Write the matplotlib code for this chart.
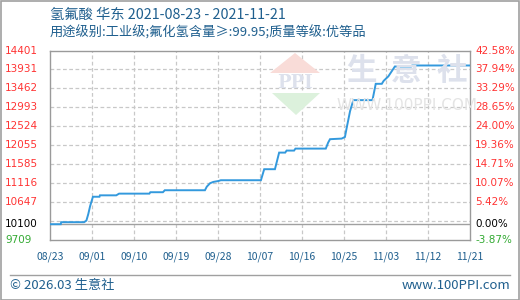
import matplotlib
matplotlib.use("Agg")
import matplotlib.pyplot as plt
import matplotlib.transforms as mtransforms
from matplotlib.patches import Polygon, Rectangle
from matplotlib.lines import Line2D
import numpy as np
import pandas as pd

# ---------------- data ----------------
start_date = "2021-08-23"
end_date = "2021-11-21"
# day offsets from start_date (fractional where the price moved within a day)
day_offsets = [0, 2.3, 2.4, 7.3, 7.8, 8.2, 8.6, 9.2, 10.6, 10.7, 14.2, 14.8,
               21.3, 21.5, 24.2, 24.6, 33.2, 33.6, 34.3, 35.0, 36.1, 36.6,
               45.2, 45.9, 48.2, 49.1, 50.4, 50.7, 52.3, 52.6, 59.1, 59.6, 60.0,
               62.5, 63.2, 63.6, 64.3, 65.0, 69.1, 69.8, 71.1, 71.5, 72.5, 73.3,
               73.9, 77.4, 77.6, 90]
prices = [10100, 10100, 10150, 10150, 10190, 10350, 10550, 10780, 10780, 10815, 10815, 10857,
          10857, 10892, 10892, 10941, 10941, 11030, 11115, 11147, 11170, 11189,
          11189, 11462, 11462, 11873, 11873, 11923, 11923, 11972, 11972, 12120, 12205,
          12220, 12260, 12500, 12900, 13172, 13172, 13576, 13576, 13650, 13760, 13900,
          14005, 14005, 14030, 14030]

base_price = 10100
y_min, y_max = 9709, 14401
y_tick_values = [9709, 10100, 10647, 11116, 11585, 12055, 12524, 12993, 13462, 13931, 14401]
y_tick_labels = ["9709", "10100", "10647", "11116", "11585", "12055", "12524",
                 "12993", "13462", "13931", "14401"]
pct_labels = ["-3.87%", "0.00%", "5.42%", "10.07%", "14.71%", "19.36%", "24.00%",
              "28.65%", "33.29%", "37.94%", "42.58%"]
x_tick_labels = ["08/23", "09/01", "09/10", "09/19", "09/28", "10/07",
                 "10/16", "10/25", "11/03", "11/12", "11/21"]

title_line1 = "氢氟酸 华东 2021-08-23 - 2021-11-21"
title_line2 = "用途级别:工业级;氟化氢含量≥:99.95;质量等级:优等品"
footer_left = "© 2026.03 生意社"
footer_right = "www.100PPI.com"

# ---------------- figure ----------------
W, H = 520, 300
fig = plt.figure(figsize=(W / 100, H / 100), dpi=100)
fig.patch.set_facecolor("white")

def fx(x):
    return x / W

def fy(y):
    return 1 - y / H

cjk = ["Noto Sans CJK SC", "DejaVu Sans"]
blue_txt = "#1f5f8e"

ax_l, ax_r, ax_t, ax_b = 50, 470, 50.5, 240
ax = fig.add_axes([fx(ax_l), fy(ax_b), fx(ax_r) - fx(ax_l), fy(ax_t) - fy(ax_b)])
ax.set_facecolor("none")

t0 = pd.Timestamp(start_date)
total_days = (pd.Timestamp(end_date) - t0).days
ax.set_xlim(0, total_days)
ax.set_ylim(y_min, y_max)

# x ticks from tick label dates
tick_days = [(pd.Timestamp(f"2021-{lab.replace('/', '-')}") - t0).days for lab in x_tick_labels]
ax.set_xticks(tick_days)
ax.set_xticklabels(x_tick_labels, fontsize=7.5, color=blue_txt, family=cjk)
ax.tick_params(axis="x", length=0, pad=8)
ax.set_yticks([])

for s in ax.spines.values():
    s.set_color("#9a9a9a")
    s.set_linewidth(1.0)

grid_kw = dict(color="#c8c8c8", linewidth=0.9, linestyle=(0, (3, 2)), zorder=1)
for d in tick_days[1:-1]:
    ax.axvline(d, **grid_kw)
for v in np.linspace(y_min, y_max, 11)[1:-1]:
    ax.axhline(v, **grid_kw)

# base line
ax.axhline(base_price, color="#a0a0a0", linewidth=1.0, zorder=1.5)

# price line
ax.plot(day_offsets, prices, color="#3399dd", linewidth=1.4, zorder=3,
        solid_joinstyle="miter")

# y labels (left & right)
trans_l = mtransforms.blended_transform_factory(fig.transFigure, ax.transData)
for v, lab, pl in zip(y_tick_values, y_tick_labels, pct_labels):
    if v == y_min:
        c = "#33aa33"
    elif v == base_price:
        c = "#000000"
    else:
        c = "#ff3333"
    ax.text(fx(5), v, lab, transform=trans_l, ha="left", va="center",
            fontsize=7.5, color=c, clip_on=False)
    ax.text(fx(475), v, pl, transform=trans_l, ha="left", va="center",
            fontsize=7.5, color=c, clip_on=False)

# watermark
wm_c = "#dde1ec"
fig.patches.append(Polygon([[fx(270), fy(73)], [fx(320), fy(73)], [fx(295), fy(53)]],
                           closed=True, transform=fig.transFigure, facecolor="#f9dcd8",
                           edgecolor="none", zorder=0.5))
fig.patches.append(Polygon([[fx(272), fy(93)], [fx(320), fy(93)], [fx(296), fy(115)]],
                           closed=True, transform=fig.transFigure, facecolor="#dcf1dc",
                           edgecolor="none", zorder=0.5))
fig.text(fx(295), fy(83.5), "PPI", ha="center", va="center", fontsize=13,
         family="DejaVu Serif", fontweight="bold", color=wm_c, zorder=0.6)
for cx, ch in zip([361, 406, 452], "生意社"):
    fig.text(fx(cx), fy(71), ch, ha="center", va="center", fontsize=22,
             family=cjk, fontweight="bold", color=wm_c, zorder=0.6)
fig.text(fx(407), fy(105.5), "WWW.100PPI.COM", ha="center", va="center", fontsize=11,
         family="DejaVu Sans", color="#e4e4e4", zorder=0.6)

# titles
fig.text(fx(50), fy(15), title_line1, ha="left", va="center", fontsize=10.3,
         family=cjk, color=blue_txt)
fig.text(fx(50), fy(33), title_line2, ha="left", va="center", fontsize=9.5,
         family=cjk, color=blue_txt)

# footer
fig.add_artist(Line2D([fx(10), fx(510)], [fy(275), fy(275)], color="#a0a0a0",
                      linewidth=1.0, transform=fig.transFigure))
fig.text(fx(10), fy(285.5), footer_left, ha="left", va="center", fontsize=9.5,
         family=cjk, color=blue_txt)
fig.text(fx(510), fy(285.5), footer_right, ha="right", va="center", fontsize=9.5,
         family=cjk, color=blue_txt)

# outer frame
fig.patches.append(Rectangle((0.5 / W, 0.5 / H), 1 - 1.5 / W, 1 - 1.5 / H,
                             transform=fig.transFigure, facecolor="none",
                             edgecolor="#a0a0a0", linewidth=1.2, zorder=10))

fig.savefig("out.png", dpi=100, facecolor="white")
